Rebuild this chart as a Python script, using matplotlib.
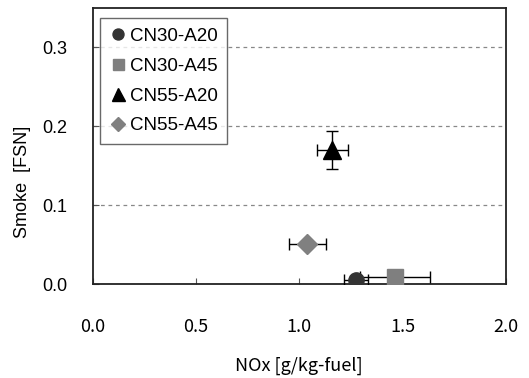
import matplotlib
matplotlib.use("Agg")
import matplotlib.pyplot as plt

labels = ["CN30-A20", "CN30-A45", "CN55-A20", "CN55-A45"]
nox = [1.275, 1.465, 1.16, 1.04]
smoke = [0.005, 0.009, 0.170, 0.051]
nox_err = [0.058, 0.17, 0.075, 0.09]
smoke_err = [0.0, 0.0, 0.024, 0.0]
markers = ["o", "s", "^", "D"]
colors = ["#333333", "#7f7f7f", "#000000", "#808080"]
msizes = [11, 11, 13, 10.5]

xticks = [0.0, 0.5, 1.0, 1.5, 2.0]
yticks = [0.0, 0.1, 0.2, 0.3]

fig = plt.figure(figsize=(5.29, 3.78), dpi=100)
ax = fig.add_axes([92.7/529, 1-284.3/378, (505.7-92.7)/529, (284.3-8)/378])

for i in range(len(labels)):
    ax.errorbar(nox[i], smoke[i], xerr=nox_err[i],
                yerr=smoke_err[i] if smoke_err[i] > 0 else None,
                fmt=markers[i], color=colors[i], mfc=colors[i], mec=colors[i],
                ms=msizes[i], ecolor="black", elinewidth=1, capsize=4,
                capthick=1, label=labels[i], zorder=3)

ax.set_xlim(0, 2.0)
ax.set_ylim(0, 0.35)
ax.set_xticks(xticks)
ax.set_yticks(yticks)
ax.set_xticklabels([f"{v:.1f}" for v in xticks], family=["Noto Sans CJK KR", "DejaVu Sans"], fontsize=13)
ax.set_yticklabels([f"{v:.1f}" for v in yticks], family=["Liberation Sans"], fontsize=13)
ax.tick_params(axis="x", direction="in", length=4, pad=24, color="#555555")
ax.tick_params(axis="y", direction="in", length=4, pad=18, color="#555555")
ax.yaxis.grid(True, linestyle=(0, (3, 3)), color="#888888", linewidth=0.9)
ax.set_axisbelow(True)

for s in ax.spines.values():
    s.set_color("#222222")
    s.set_linewidth(1.3)

ax.set_xlabel("NOx [g/kg-fuel]", family=["Noto Sans CJK KR", "DejaVu Sans"], fontsize=13, va="center")
ax.set_ylabel("Smoke  [FSN]", family=["Liberation Sans"], fontsize=13, va="center")
ax.xaxis.set_label_coords(0.5, -0.296)
ax.yaxis.set_label_coords(-0.169, 0.37)

handles, lbls = ax.get_legend_handles_labels()
handles = [h[0] for h in handles]
leg = ax.legend(handles, lbls, loc="upper left", bbox_to_anchor=(7.3/413, 1-10.3/276.3),
                prop={"family": "Liberation Sans", "size": 13.5}, frameon=True,
                fancybox=False, edgecolor="#444444", labelspacing=0.68,
                handlelength=0.9, handletextpad=0.2, borderpad=0.5, borderaxespad=0,
                markerscale=0.72)
leg.get_frame().set_linewidth(1.0)

fig.savefig("out.png", dpi=100)
